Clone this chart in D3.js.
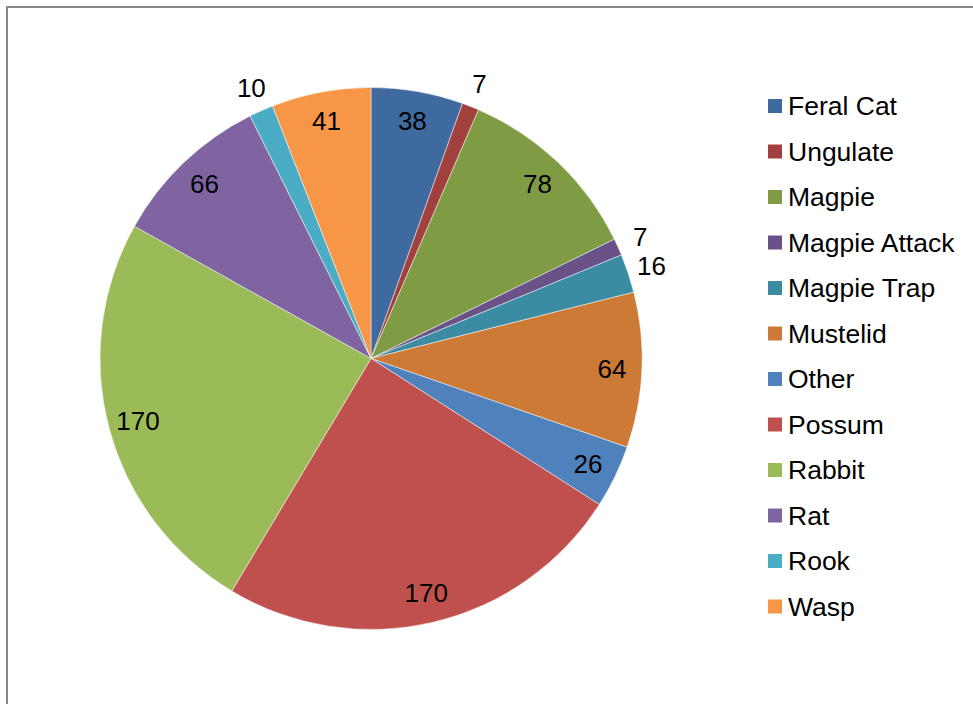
<!DOCTYPE html>
<html>
<head>
<meta charset="utf-8">
<script src="https://cdn.jsdelivr.net/npm/d3@7"></script>
<style>
  html, body { margin: 0; padding: 0; background: #fff; }
  svg { display: block; font-family: "Liberation Sans", Arial, sans-serif; }
</style>
</head>
<body>
<svg id="chart" width="973" height="704"></svg>
<script>
// Pest counts by category
const categories = ["Feral Cat", "Ungulate", "Magpie", "Magpie Attack", "Magpie Trap", "Mustelid",
                    "Other", "Possum", "Rabbit", "Rat", "Rook", "Wasp"];
const counts = [38, 7, 78, 7, 16, 64, 26, 170, 170, 66, 10, 41];
const colors = ["#3F6A9F", "#A2403E", "#7F9C45", "#6A5289", "#3B8CA3", "#CC7A36",
                "#4F81BD", "#C0504D", "#9BBB59", "#8064A2", "#4BACC6", "#F79646"];
// Slices whose labels sit outside the rim
const outsideLabels = ["Ungulate", "Magpie Attack", "Magpie Trap", "Rook"];

const svg = d3.select("#chart");

// Chart frame
svg.append("rect")
  .attr("x", 7).attr("y", 7)
  .attr("width", 980).attr("height", 720)
  .attr("fill", "none").attr("stroke", "#888").attr("stroke-width", 2);

const cx = 371, cy = 358.5, R = 271;
const data = categories.map((c, i) => ({ name: c, value: counts[i], color: colors[i] }));

const pie = d3.pie().value(d => d.value).sort(null);
const arcs = pie(data);
const arc = d3.arc().innerRadius(0).outerRadius(R);
const inLabel = d3.arc().innerRadius(R * 0.89).outerRadius(R * 0.89);
const outLabel = d3.arc().innerRadius(R * 1.09).outerRadius(R * 1.09);

const g = svg.append("g").attr("transform", `translate(${cx},${cy})`);

g.selectAll("path.slice").data(arcs).enter().append("path")
  .attr("class", "slice")
  .attr("d", arc)
  .attr("fill", d => d.data.color)
  .attr("stroke", "#fff").attr("stroke-width", 0.6).attr("stroke-opacity", 0.8);

g.selectAll("text.val").data(arcs).enter().append("text")
  .attr("class", "val")
  .attr("transform", d => {
    const p = (outsideLabels.includes(d.data.name) ? outLabel : inLabel).centroid(d);
    return `translate(${p[0]},${p[1]})`;
  })
  .attr("text-anchor", "middle")
  .attr("dominant-baseline", "central")
  .attr("font-size", 26)
  .attr("fill", "#000")
  .text(d => d.data.value);

// Legend
const legend = svg.append("g").attr("transform", "translate(768,106)");
const rowH = 45.5;
const rows = legend.selectAll("g").data(data).enter().append("g")
  .attr("transform", (d, i) => `translate(0,${i * rowH})`);
rows.append("rect")
  .attr("x", 0).attr("y", -7).attr("width", 14).attr("height", 14)
  .attr("fill", d => d.color);
rows.append("text")
  .attr("x", 20).attr("y", 0)
  .attr("dominant-baseline", "central")
  .attr("font-size", 26.5)
  .attr("fill", "#000")
  .text(d => d.name);
</script>
</body>
</html>
